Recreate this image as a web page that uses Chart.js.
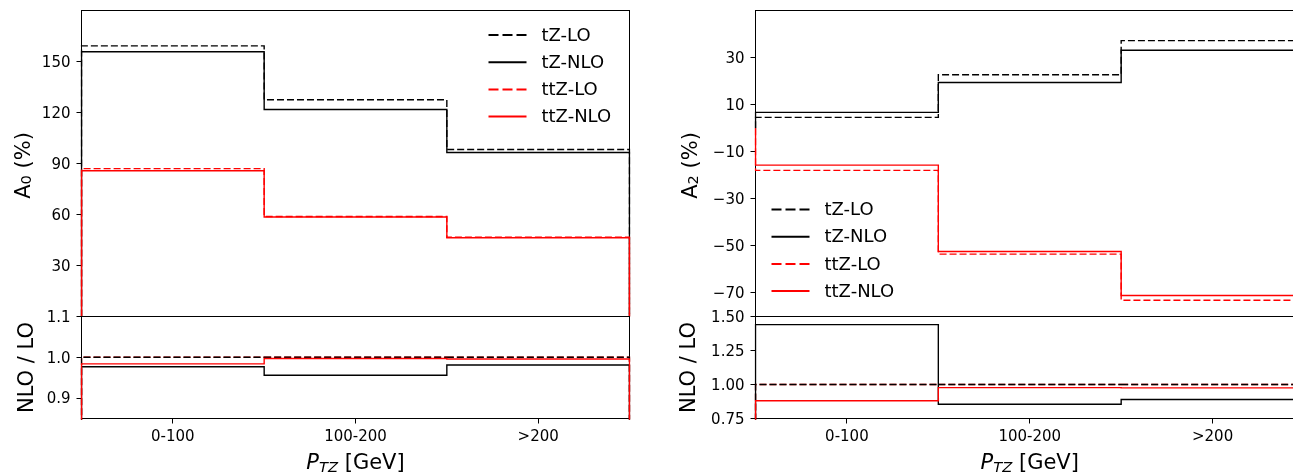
<!DOCTYPE html>
<html>
<head>
<meta charset="utf-8">
<script src="https://cdn.jsdelivr.net/npm/chart.js@4.4.0/dist/chart.umd.min.js"></script>
<style>
html,body{margin:0;padding:0;background:#fff;overflow:hidden;width:1293px;height:473px;position:relative;}
canvas{position:absolute;left:0;top:0;}
</style>
</head>
<body>
<canvas id="a0" width="1320" height="473"></canvas>
<canvas id="a0r" width="1320" height="473"></canvas>
<canvas id="a2" width="1320" height="473"></canvas>
<canvas id="a2r" width="1320" height="473"></canvas>
<script>
// ---------------- DATA ----------------
const categories = ['0-100', '100-200', '>200'];
const seriesNames = ['tZ-LO', 'tZ-NLO', 'ttZ-LO', 'ttZ-NLO'];

// Left panel: A0 (%)
const a0_tZ_LO   = [159.2, 127.5, 98.2];
const a0_tZ_NLO  = [155.7, 121.8, 96.5];
const a0_ttZ_LO  = [87.0, 58.8, 46.6];
const a0_ttZ_NLO = [85.7, 58.5, 46.3];
// Left panel ratio NLO / LO
const a0_ratio_LO  = [1.0, 1.0, 1.0];
const a0_ratio_tZ  = [0.977, 0.956, 0.981];
const a0_ratio_ttZ = [0.984, 0.997, 0.996];

// Right panel: A2 (%)
const a2_tZ_LO   = [4.6, 22.7, 37.2];
const a2_tZ_NLO  = [6.7, 19.4, 33.1];
const a2_ttZ_LO  = [-17.9, -53.5, -73.1];
const a2_ttZ_NLO = [-15.7, -52.4, -71.1];
// Right panel ratio NLO / LO
const a2_ratio_LO  = [1.0, 1.0, 1.0];
const a2_ratio_tZ  = [1.44, 0.855, 0.89];
const a2_ratio_ttZ = [0.88, 0.977, 0.975];

// Tick labels
const a0Ticks      = [30, 60, 90, 120, 150];
const a0RatioTicks = [0.9, 1.0, 1.1];
const a2Ticks      = [-70, -50, -30, -10, 10, 30];
const a2RatioTicks = [0.75, 1.00, 1.25, 1.50];

// ---------------- STYLE / HELPERS ----------------
const FONT = '"DejaVu Sans", sans-serif';
const TICK_SIZE = 15;
const LABEL_SIZE = 21;
const LEGEND_SIZE = 18;
const YW = 81.5;
const BLACK = '#000000', RED = '#ff0000';

function stepPoints(vals, base) {
  const pts = [{x: 0, y: base}];
  vals.forEach((v, i) => { pts.push({x: i, y: v}); pts.push({x: i + 1, y: v}); });
  pts.push({x: vals.length, y: base});
  return pts;
}
function ds(label, vals, color, dashed, order) {
  return {
    label, data: stepPoints(vals, 0), borderColor: color, backgroundColor: color,
    borderWidth: 1.4, borderDash: dashed ? [7, 3] : [], pointRadius: 0, pointHoverRadius: 0,
    fill: false, tension: 0, clip: 1, order
  };
}
function minus(v, digits) {
  const s = digits == null ? String(Math.abs(v)) : Math.abs(v).toFixed(digits);
  return (v < 0 ? '\u2212' : '') + s;
}
function yScale(min, max, ticks, digits) {
  return {
    type: 'linear', min, max,
    afterBuildTicks: s => { s.ticks = ticks.map(v => ({value: v})); },
    afterFit: s => { s.width = YW; s.paddingTop = 0; s.paddingBottom = 0; },
    ticks: { callback: v => minus(v, digits), font: {family: FONT, size: TICK_SIZE}, color: '#000',
             padding: 6, labelOffset: 1.5 },
    grid: { drawOnChartArea: false, drawTicks: true, tickLength: 5, tickColor: '#000', tickWidth: 1 },
    border: { display: false }
  };
}
function xScaleRatio() {
  return {
    type: 'linear', min: 0, max: categories.length,
    afterBuildTicks: s => { s.ticks = categories.map((c, i) => ({value: i + 0.5})); },
    afterFit: s => { s.height = 54.5; s.paddingLeft = 0; s.paddingRight = 0; },
    ticks: { callback: (v, i) => categories[i], font: {family: FONT, size: TICK_SIZE}, color: '#000',
             padding: 5, maxRotation: 0, autoSkip: false },
    grid: { drawOnChartArea: false, drawTicks: true, tickLength: 5, tickColor: '#000', tickWidth: 1 },
    border: { display: false }
  };
}

function drawRich(c, parts, cx, cy, rotate, size) {
  c.save();
  c.translate(cx, cy);
  if (rotate) c.rotate(-Math.PI / 2);
  let total = 0;
  const ms = parts.map(p => {
    const sz = p.sub ? size * 0.7 : size;
    const font = (p.it ? 'italic ' : '') + sz + 'px ' + FONT;
    c.font = font;
    const w = c.measureText(p.t).width;
    total += w;
    return {font, w, p};
  });
  let x = -total / 2;
  c.textBaseline = 'alphabetic';
  c.textAlign = 'left';
  c.fillStyle = '#000';
  ms.forEach(m => {
    c.font = m.font;
    c.fillText(m.p.t, x, m.p.sub ? size * (m.p.shift || 0) : 0);
    x += m.w;
  });
  c.restore();
}

const frame = {
  id: 'frame',
  beforeDatasetsDraw(chart) {
    const a = chart.chartArea, c = chart.ctx;
    c.save();
    c.strokeStyle = '#000';
    c.lineWidth = 1;
    c.strokeRect(a.left, a.top, a.right - a.left, a.bottom - a.top);
    c.restore();
  }
};

const annot = {
  id: 'annot',
  afterDraw(chart, args, o) {
    const a = chart.chartArea, c = chart.ctx;
    if (o.ylabel) drawRich(c, o.ylabel, a.left - o.ylabelDx, (a.top + a.bottom) / 2 + (o.ylabelDy || 0), true, LABEL_SIZE);
    if (o.xlabel) drawRich(c, o.xlabel, (a.left + a.right) / 2, a.bottom + o.xlabelDy, false, LABEL_SIZE);
    if (o.legend) {
      const L = o.legend;
      const x0 = L.anchor === 'right' ? a.right - L.dx : a.left + L.dx;
      let y = a.top + L.dy;
      chart.data.datasets.forEach(d => {
        c.save();
        c.strokeStyle = d.borderColor;
        c.lineWidth = 2;
        c.setLineDash(d.borderDash && d.borderDash.length ? [10, 4] : []);
        c.beginPath(); c.moveTo(x0, y); c.lineTo(x0 + 38, y); c.stroke();
        c.setLineDash([]);
        c.fillStyle = '#000';
        c.font = LEGEND_SIZE + 'px ' + FONT;
        c.textBaseline = 'middle';
        c.textAlign = 'left';
        c.fillText(d.label, x0 + 53, y + 1);
        c.restore();
        y += 27.2;
      });
    }
  }
};

function mainChart(id, sets, yOpts, padL, padR, annotOpts) {
  return new Chart(document.getElementById(id), {
    type: 'line',
    data: { datasets: sets },
    options: {
      responsive: false, animation: false, devicePixelRatio: 1, events: [],
      layout: { autoPadding: false, padding: { left: padL, right: padR, top: 10.5, bottom: 156.5 } },
      scales: { x: { type: 'linear', display: false, min: 0, max: categories.length }, y: yOpts },
      plugins: { legend: { display: false }, tooltip: { enabled: false }, annot: annotOpts }
    },
    plugins: [frame, annot]
  });
}
function ratioChart(id, sets, yOpts, padL, padR, annotOpts) {
  return new Chart(document.getElementById(id), {
    type: 'line',
    data: { datasets: sets },
    options: {
      responsive: false, animation: false, devicePixelRatio: 1, events: [],
      layout: { autoPadding: false, padding: { left: padL, right: padR, top: 316.5, bottom: 0 } },
      scales: { x: xScaleRatio(), y: yOpts },
      plugins: { legend: { display: false }, tooltip: { enabled: false }, annot: annotOpts }
    },
    plugins: [frame, annot]
  });
}

const xLabel = [{t: 'P', it: true}, {t: 'TZ', it: true, sub: true, shift: 0.15}, {t: ' [GeV]'}];
const ratioLabel = [{t: 'NLO / LO'}];

// ---------------- LEFT PANEL ----------------
mainChart('a0', [
  ds(seriesNames[0], a0_tZ_LO, BLACK, true, 4),
  ds(seriesNames[1], a0_tZ_NLO, BLACK, false, 3),
  ds(seriesNames[2], a0_ttZ_LO, RED, true, 2),
  ds(seriesNames[3], a0_ttZ_NLO, RED, false, 1)
], yScale(0, 180, a0Ticks, null), 0, 1320 - 629.5, {
  ylabel: [{t: 'A'}, {t: '0', sub: true, shift: 0.03}, {t: ' (%)'}], ylabelDx: 51.5, ylabelDy: 2,
  legend: {anchor: 'right', dx: 141, dy: 24.5}
});
ratioChart('a0r', [
  ds('ttZ-LO', a0_ratio_LO, RED, true, 4),
  ds('tZ-LO', a0_ratio_LO, BLACK, true, 3),
  ds('tZ-NLO', a0_ratio_tZ, BLACK, false, 2),
  ds('ttZ-NLO', a0_ratio_ttZ, RED, false, 1)
], yScale(0.85, 1.1, a0RatioTicks, 1), 0, 1320 - 629.5, {
  ylabel: ratioLabel, ylabelDx: 48.5, xlabel: xLabel, xlabelDy: 50
});

// ---------------- RIGHT PANEL ----------------
mainChart('a2', [
  ds(seriesNames[0], a2_tZ_LO, BLACK, true, 4),
  ds(seriesNames[1], a2_tZ_NLO, BLACK, false, 3),
  ds(seriesNames[2], a2_ttZ_LO, RED, true, 2),
  ds(seriesNames[3], a2_ttZ_NLO, RED, false, 1)
], yScale(-80, 50, a2Ticks, null), 755.5 - YW, 16, {
  ylabel: [{t: 'A'}, {t: '2', sub: true, shift: 0.03}, {t: ' (%)'}], ylabelDx: 58.5, ylabelDy: 2,
  legend: {anchor: 'left', dx: 16, dy: 199}
});
ratioChart('a2r', [
  ds('ttZ-LO', a2_ratio_LO, RED, true, 4),
  ds('tZ-LO', a2_ratio_LO, BLACK, true, 3),
  ds('tZ-NLO', a2_ratio_tZ, BLACK, false, 2),
  ds('ttZ-NLO', a2_ratio_ttZ, RED, false, 1)
], yScale(0.75, 1.5, a2RatioTicks, 2), 755.5 - YW, 16, {
  ylabel: ratioLabel, ylabelDx: 60.5, xlabel: xLabel, xlabelDy: 50
});
</script>
</body>
</html>
